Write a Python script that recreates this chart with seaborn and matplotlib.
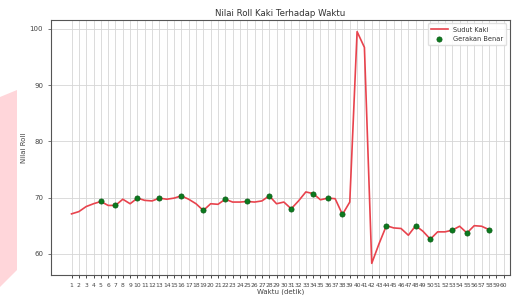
import pandas as pd
import numpy as np
import seaborn as sns
import matplotlib.pyplot as plt
from matplotlib.patches import Polygon

# data
waktu = list(range(1, 59))
roll = [67.1, 67.5, 68.4, 68.9, 69.3, 68.6, 68.6, 69.7, 68.9, 69.9,
        69.5, 69.4, 69.9, 69.7, 69.9, 70.3, 69.7, 68.9, 67.7, 68.9,
        68.8, 69.7, 69.2, 69.2, 69.3, 69.2, 69.4, 70.3, 68.9, 69.2,
        68.0, 69.4, 71.0, 70.7, 69.6, 69.9, 69.8, 67.0, 69.2, 99.5,
        96.7, 58.3, 61.8, 65.0, 64.6, 64.5, 63.3, 65.0, 64.0, 62.6,
        63.9, 63.9, 64.2, 64.9, 63.7, 65.0, 64.9, 64.3]
benar = [5, 7, 10, 13, 16, 19, 22, 25, 28, 31, 34, 36, 38, 44, 48, 50, 53, 55, 58]
xticks = list(range(1, 61))

df = pd.DataFrame({'Waktu': waktu, 'Roll': roll})
df_benar = df[df['Waktu'].isin(benar)]

fig = plt.figure(figsize=(5.17, 2.95), dpi=100)
# pink background shape at the left edge of the screenshot
fig.patches.append(Polygon([(0, 1 - 97/295), (17/517, 1 - 90/295),
                            (17/517, 1 - 270/295), (0, 1 - 287/295)],
                           closed=True, transform=fig.transFigure,
                           facecolor='#ffd6da', edgecolor='none', zorder=0))
ax = fig.add_axes([0.098, 0.068, 0.888, 0.864])

sns.lineplot(data=df, x='Waktu', y='Roll', ax=ax, color='#e8434d',
             linewidth=1.2, label='Sudut Kaki')
sns.scatterplot(data=df_benar, x='Waktu', y='Roll', ax=ax, color='#0b7a1e',
                s=14, edgecolor='#0b5a16', linewidth=0.5, zorder=3,
                label='Gerakan Benar')

ax.set_xticks(xticks)
ax.set_xticklabels([str(t) for t in xticks], fontsize=4.3, color='#444444')
ax.set_yticks([60, 70, 80, 90, 100])
ax.tick_params(axis='y', labelsize=5, colors='#444444')
ax.tick_params(length=2, width=0.5)
ax.grid(True, color='#d6d6d6', linewidth=0.6)
ax.set_axisbelow(True)
ax.set_title('Nilai Roll Kaki Terhadap Waktu', fontsize=6.2, color='#333333', pad=3)
ax.set_xlabel('Waktu (detik)', fontsize=5, color='#444444', labelpad=1)
ax.set_ylabel('Nilai Roll', fontsize=5, color='#444444', labelpad=2)
for s in ax.spines.values():
    s.set_color('#555555')
    s.set_linewidth(0.8)

leg = ax.legend(loc='upper right', fontsize=4.8, frameon=True, framealpha=0.9,
                edgecolor='#dddddd', handlelength=2.5, borderpad=0.5)
for t in leg.get_texts():
    t.set_color('#333333')

plt.savefig('out.png', dpi=100)
